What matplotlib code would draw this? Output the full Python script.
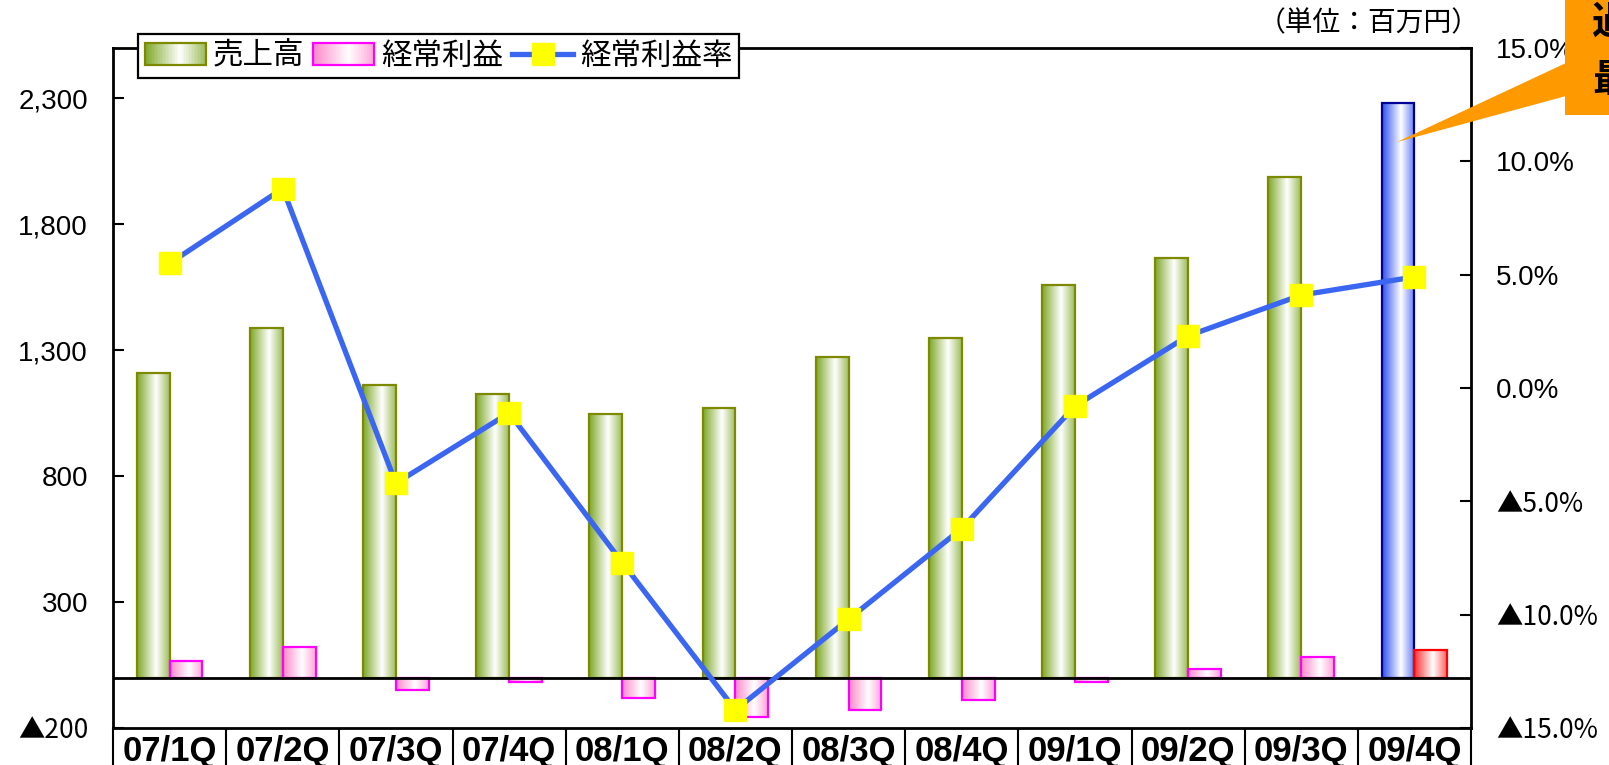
import numpy as np
import matplotlib
matplotlib.use('Agg')
import matplotlib.pyplot as plt
from matplotlib.patches import Rectangle, Polygon, Patch
from matplotlib.lines import Line2D
from matplotlib.colors import to_rgb

plt.rcParams['font.family'] = ['Liberation Sans Narrow', 'Liberation Sans', 'Noto Sans CJK JP', 'DejaVu Sans']

# data (百万円 / %)
quarters = ['07/1Q', '07/2Q', '07/3Q', '07/4Q', '08/1Q', '08/2Q',
            '08/3Q', '08/4Q', '09/1Q', '09/2Q', '09/3Q', '09/4Q']
sales = [1209, 1388, 1160, 1128, 1046, 1071, 1274, 1348, 1559, 1665, 1987, 2280]
profit = [65, 122, -49, -16, -81, -155, -130, -90, -16, 33, 81, 110]
margin = [5.5, 8.8, -4.2, -1.1, -7.7, -14.2, -10.2, -6.2, -0.8, 2.3, 4.1, 4.9]

left_ticks = [-200, 300, 800, 1300, 1800, 2300]
right_ticks = [-15, -10, -5, 0, 5, 10, 15]

W, H = 1609, 765
fig = plt.figure(figsize=(W / 100, H / 100), dpi=100)
ax = fig.add_axes([113 / W, 1 - 728 / H, (1471 - 113) / W, (728 - 48) / H])


def grad_colors(base, n=64, c=0.58, right=0.75):
    rgb = np.array(to_rgb(base))
    t = np.linspace(0, 1, n)
    f = np.where(t < c, (c - t) / c, right * (t - c) / (1 - c))
    return (1 - f)[:, None] * np.ones(3) + f[:, None] * rgb


def grad_bar(ax, x, h, w, base, edge):
    y0, y1 = min(0, h), max(0, h)
    rect = Rectangle((x - w / 2, y0), w, y1 - y0, facecolor='none',
                     edgecolor=edge, lw=1.6, zorder=3)
    ax.add_patch(rect)
    img = ax.imshow(grad_colors(base)[None, :, :], extent=(x - w / 2, x + w / 2, y0, y1),
                    aspect='auto', interpolation='bilinear', zorder=2)
    img.set_clip_path(rect)


class GradHandler:
    def __init__(self, base, edge):
        self.base = base
        self.edge = edge

    def legend_artist(self, legend, orig_handle, fontsize, handlebox):
        x0, y0 = -handlebox.xdescent, -handlebox.ydescent
        w, h = handlebox.width, handlebox.height
        cols = grad_colors(self.base, n=40)
        sw = w / len(cols)
        for i, c in enumerate(cols):
            handlebox.add_artist(Rectangle((x0 + i * sw, y0), sw * 1.1, h, facecolor=c,
                                           lw=0, transform=handlebox.get_transform()))
        box = Rectangle((x0, y0), w, h, facecolor='none', edgecolor=self.edge, lw=1.6,
                        transform=handlebox.get_transform())
        handlebox.add_artist(box)
        return box


bw = 0.29
x = np.arange(len(quarters))
for i in range(len(quarters)):
    if i == len(quarters) - 1:
        grad_bar(ax, x[i] - bw / 2, sales[i], bw, '#3050F0', '#000099')
        grad_bar(ax, x[i] + bw / 2, profit[i], bw, '#FF3030', '#FF0000')
    else:
        grad_bar(ax, x[i] - bw / 2, sales[i], bw, '#7FA82A', '#7D8A00')
        grad_bar(ax, x[i] + bw / 2, profit[i], bw, '#FF88CC', '#FF00FF')

ax.axhline(0, color='black', lw=2, zorder=4)
ax.set_xlim(-0.5, len(quarters) - 0.5)
ax.set_ylim(-200, 2500)
ax.set_yticks(left_ticks)
ax.set_yticklabels([('▲' + format(-v, ',')) if v < 0 else format(v, ',') for v in left_ticks])
ax.tick_params(axis='y', direction='in', length=8, width=1.5, pad=18, labelsize=20)
ax.set_xticks(x)
ax.set_xticklabels(quarters, fontsize=25, fontweight='bold')
ax.tick_params(axis='x', length=0, pad=5)
for s in ax.spines.values():
    s.set_linewidth(2)
ax.vlines(np.arange(len(quarters) + 1) - 0.5, -0.08, 0, transform=ax.get_xaxis_transform(),
          colors='black', lw=1.5, clip_on=False)

ax2 = ax.twinx()
ax2.plot(x, margin, color='#3A66F2', lw=3.8, marker='s', ms=16,
         mfc='#FFFF00', mec='#FFFF00', zorder=5)
ax2.set_ylim(-15, 15)
ax2.set_yticks(right_ticks)
ax2.set_yticklabels([('▲%.1f%%' % -v) if v < 0 else ('%.1f%%' % v) for v in right_ticks])
ax2.tick_params(axis='y', direction='in', length=8, width=1.5, pad=18, labelsize=20)
for s in ax2.spines.values():
    s.set_visible(False)

# negative labels: full-width triangle from the CJK font
for lab in ax.get_yticklabels() + ax2.get_yticklabels():
    if lab.get_text().startswith('▲'):
        lab.set_family('Noto Sans CJK JP')
        lab.set_fontsize(19)

h_sales = Patch()
h_profit = Patch()
h_margin = Line2D([], [], color='#3A66F2', lw=3.8, marker='s', ms=16, mfc='#FFFF00', mec='#FFFF00')
leg = ax2.legend([h_sales, h_profit, h_margin], ['売上高', '経常利益', '経常利益率'],
                 handler_map={h_sales: GradHandler('#7FA82A', '#7D8A00'),
                              h_profit: GradHandler('#FF88CC', '#FF00FF')},
                 loc='upper left', bbox_to_anchor=(138 / W, 1 - 34 / H), bbox_transform=fig.transFigure,
                 ncol=3, prop={'family': 'Noto Sans CJK JP', 'size': 22}, frameon=True, fancybox=False,
                 edgecolor='black', framealpha=1, borderpad=0.22, borderaxespad=0, handlelength=2.0,
                 handleheight=0.75, handletextpad=0.22, columnspacing=0.3)
leg.get_frame().set_linewidth(1.6)

fig.text(1480 / W, 1 - 23 / H, '（単位：百万円）', ha='right', va='center', fontsize=20,
         family='Noto Sans CJK JP')

# callout
orange = '#FF9900'
fig.add_artist(Polygon([(1397 / W, 1 - 142 / H), (1566 / W, 1 - 63 / H), (1566 / W, 1 - 96 / H)],
                       closed=True, transform=fig.transFigure, facecolor=orange, edgecolor='none'))
fig.add_artist(Rectangle((1565 / W, 1 - 115 / H), 60 / W, 130 / H, transform=fig.transFigure,
                         facecolor=orange, edgecolor='none'))
fig.text(1592 / W, 1 - 22 / H, '過去', ha='left', va='center', fontsize=28, fontweight='bold',
         family='Noto Sans CJK JP')
fig.text(1592 / W, 1 - 80 / H, '最高', ha='left', va='center', fontsize=28, fontweight='bold',
         family='Noto Sans CJK JP')

fig.savefig('out.png', dpi=100)
